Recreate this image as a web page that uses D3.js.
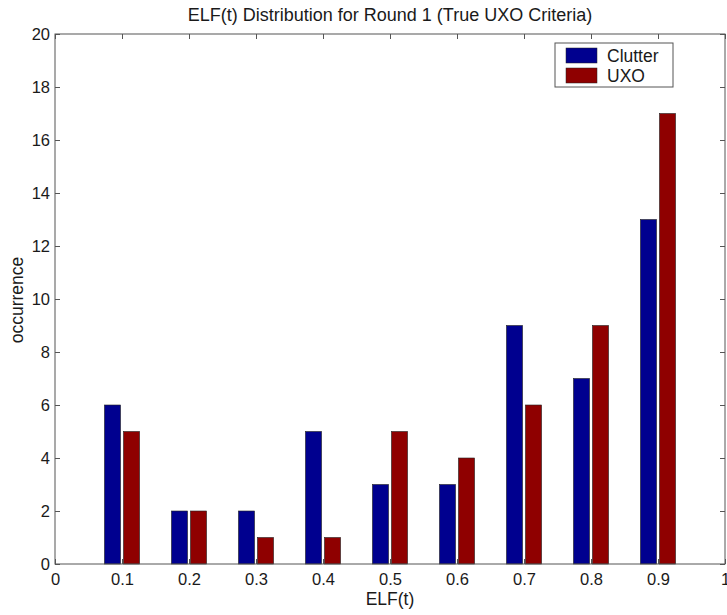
<!DOCTYPE html>
<html>
<head>
<meta charset="utf-8">
<script src="https://cdn.jsdelivr.net/npm/d3@7"></script>
<style>
body{margin:0;background:#fff;}
svg{display:block;font-family:"Liberation Sans",Arial,sans-serif;}
</style>
</head>
<body>
<svg id="chart" width="727" height="615"></svg>
<script>
const categories = [0.1,0.2,0.3,0.4,0.5,0.6,0.7,0.8,0.9];
const clutter = [6,2,2,5,3,3,9,7,13];
const uxo = [5,2,1,1,5,4,6,9,17];
const xTicks = [0,0.1,0.2,0.3,0.4,0.5,0.6,0.7,0.8,0.9,1];
const xTickLabels = ["0","0.1","0.2","0.3","0.4","0.5","0.6","0.7","0.8","0.9","1"];
const yTicks = [0,2,4,6,8,10,12,14,16,18,20];
const seriesNames = ["Clutter","UXO"];
const seriesColors = ["#00008f","#8f0000"];

(function(){
const svg = d3.select("#chart");
const mL = 55, mR = 725, mT = 34, mB = 564;
const x = d3.scaleLinear().domain([0,1]).range([mL,mR]);
const y = d3.scaleLinear().domain([0,20]).range([mB,mT]);

const axisColor = "#555";
const textColor = "#1a1a1a";
const barW = 0.024, off = 0.0142;
const series = [clutter, uxo];
series.forEach((vals,si)=>{
  svg.append("g").selectAll("rect").data(categories).join("rect")
    .attr("x", (d)=> x(d + (si===0?-off:off) - barW/2))
    .attr("width", x(barW)-x(0))
    .attr("y", (d,i)=> y(vals[i]))
    .attr("height", (d,i)=> y(0)-y(vals[i]))
    .attr("fill", seriesColors[si])
    .attr("stroke", "#222")
    .attr("stroke-width", 0.6);
});

svg.append("rect").attr("x",mL).attr("y",mT).attr("width",mR-mL).attr("height",mB-mT)
  .attr("fill","none").attr("stroke",axisColor).attr("stroke-width",1);

const tl = 5;
const gx = svg.append("g").attr("transform",`translate(0,${mB})`)
  .call(d3.axisBottom(x).tickValues(xTicks).tickFormat((d,i)=>xTickLabels[i]).tickSizeInner(-tl).tickSizeOuter(0).tickPadding(9));
const gxt = svg.append("g").attr("transform",`translate(0,${mT})`)
  .call(d3.axisTop(x).tickValues(xTicks).tickFormat("").tickSizeInner(-tl).tickSizeOuter(0));
const gy = svg.append("g").attr("transform",`translate(${mL},0)`)
  .call(d3.axisLeft(y).tickValues(yTicks).tickFormat(d3.format("d")).tickSizeInner(-tl).tickSizeOuter(0).tickPadding(5));
const gyr = svg.append("g").attr("transform",`translate(${mR},0)`)
  .call(d3.axisRight(y).tickValues(yTicks).tickFormat("").tickSizeInner(-tl).tickSizeOuter(0));
[gx,gxt,gy,gyr].forEach(g=>{
  g.select(".domain").remove();
  g.selectAll("line").attr("stroke",axisColor);
  g.selectAll("text").attr("fill",textColor).style("font-size","16.5px").style("font-family",'"Liberation Sans",Arial,sans-serif');
});

svg.append("text").attr("x",390).attr("y",21).attr("text-anchor","middle")
  .style("font-size","18px").attr("fill",textColor).text("ELF(t) Distribution for Round 1 (True UXO Criteria)");
svg.append("text").attr("x",390).attr("y",605).attr("text-anchor","middle")
  .style("font-size","17.5px").attr("fill",textColor).text("ELF(t)");
svg.append("text").attr("transform","translate(23,300) rotate(-90)").attr("text-anchor","middle")
  .style("font-size","17.5px").attr("fill",textColor).text("occurrence");

const lg = svg.append("g");
lg.append("rect").attr("x",555).attr("y",43).attr("width",118).attr("height",44)
  .attr("fill","#fff").attr("stroke",axisColor).attr("stroke-width",1);
seriesNames.forEach((n,i)=>{
  lg.append("rect").attr("x",566).attr("y",48+i*20).attr("width",31).attr("height",15)
    .attr("fill",seriesColors[i]).attr("stroke","#222").attr("stroke-width",0.5);
  lg.append("text").attr("x",607).attr("y",56+i*20).attr("dy","0.35em")
    .style("font-size","17.5px").attr("fill",textColor).text(n);
});
})();
</script>
</body>
</html>
